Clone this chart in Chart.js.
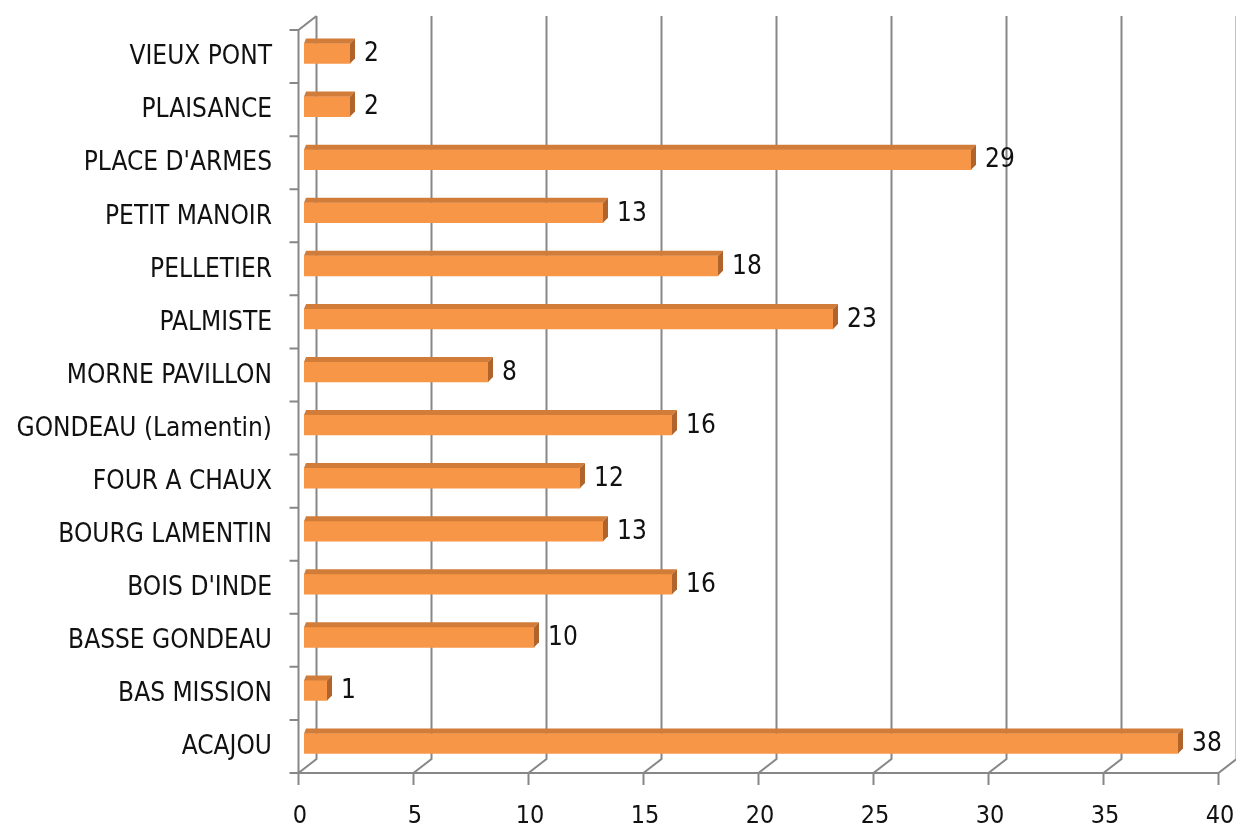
<!DOCTYPE html>
<html><head><meta charset="utf-8">
<script src="https://cdn.jsdelivr.net/npm/chart.js@4.4.1/dist/chart.umd.min.js"></script>
<style>html,body{margin:0;padding:0;background:#fff;overflow:hidden}</style>
</head><body>
<canvas id="c" width="1236" height="828" style="display:block;width:1236px;height:828px"></canvas>
<script>
const categories = ["VIEUX PONT","PLAISANCE","PLACE D'ARMES","PETIT MANOIR","PELLETIER","PALMISTE","MORNE PAVILLON","GONDEAU (Lamentin)","FOUR A CHAUX","BOURG LAMENTIN","BOIS D'INDE","BASSE GONDEAU","BAS MISSION","ACAJOU"];
const values = [2,2,29,13,18,23,8,16,12,13,16,10,1,38];
const xTicks = [0,5,10,15,20,25,30,35,40];

const FONT = "'DejaVu Sans Condensed', 'DejaVu Sans', sans-serif";
const GRID = '#878787';
const TEXT = '#111111';

const depthPlugin = {
  id: 'depth',
  beforeDatasetsDraw(chart) {
    const {ctx, chartArea: a, scales: {x, y}} = chart;
    const FDX = -5.5, FDY = 3, BDX = 12.5, BDY = -11;
    const fTop = a.top + FDY, fBot = a.bottom + FDY, bTop = a.top + BDY, bBot = a.bottom + BDY;
    ctx.save();
    ctx.strokeStyle = GRID; ctx.lineWidth = 2; ctx.lineJoin = 'miter';
    ctx.beginPath();
    xTicks.forEach(v => {
      const px = x.getPixelForValue(v);
      ctx.moveTo(px + BDX, bTop); ctx.lineTo(px + BDX, bBot);
      ctx.lineTo(px + FDX, fBot); ctx.lineTo(px + FDX, fBot + 12);
    });
    const lx = x.getPixelForValue(xTicks[0]) + FDX;
    ctx.moveTo(lx - 9, fBot); ctx.lineTo(x.getPixelForValue(xTicks[xTicks.length - 1]) + FDX, fBot);
    ctx.moveTo(lx, fBot); ctx.lineTo(lx, fTop); ctx.lineTo(x.getPixelForValue(xTicks[0]) + BDX, bTop);
    for (let k = 0; k <= categories.length; k++) {
      const yy = y.getPixelForValue(k - 0.5) + FDY;
      ctx.moveTo(lx - 9, yy); ctx.lineTo(lx, yy);
    }
    ctx.stroke();
    ctx.restore();
  },
  afterDatasetsDraw(chart) {
    const {ctx} = chart;
    const meta = chart.getDatasetMeta(0);
    const D = 5;
    ctx.save();
    meta.data.forEach((bar, i) => {
      const p = bar.getProps(['x', 'y', 'base', 'height'], true);
      const t = p.y - p.height / 2, b = p.y + p.height / 2;
      ctx.fillStyle = '#D27C3A';
      ctx.beginPath();
      ctx.moveTo(p.base, t); ctx.lineTo(p.x, t); ctx.lineTo(p.x + D, t - D); ctx.lineTo(p.base + 2, t - D);
      ctx.closePath(); ctx.fill();
      ctx.fillStyle = '#B0632B';
      ctx.beginPath();
      ctx.moveTo(p.x, t); ctx.lineTo(p.x + D, t - D); ctx.lineTo(p.x + D, b - D); ctx.lineTo(p.x, b);
      ctx.closePath(); ctx.fill();
      ctx.fillStyle = TEXT;
      ctx.font = "26px " + FONT;
      ctx.textAlign = 'left'; ctx.textBaseline = 'middle';
      ctx.fillText(String(values[i]), p.x + 14, p.y + 1);
    });
    ctx.restore();
  }
};

new Chart(document.getElementById('c'), {
  type: 'bar',
  data: {
    labels: categories,
    datasets: [{ data: values, backgroundColor: '#F79646', borderWidth: 0, barThickness: 20 }]
  },
  options: {
    indexAxis: 'y',
    responsive: false,
    animation: false,
    devicePixelRatio: 1,
    layout: { padding: { top: 27, right: 12, left: 0, bottom: 0 } },
    plugins: { legend: { display: false }, tooltip: { enabled: false } },
    scales: {
      x: {
        min: xTicks[0], max: xTicks[xTicks.length - 1],
        afterBuildTicks: s => { s.ticks = xTicks.map(v => ({ value: v })); },
        grid: { display: false, drawTicks: false },
        border: { display: false },
        ticks: { font: { family: FONT, size: 25 }, color: TEXT, padding: 31, labelOffset: -4, maxRotation: 0, autoSkip: false },
        afterFit: s => { s.height = 58; s.paddingLeft = 0; s.paddingRight = 0; }
      },
      y: {
        grid: { display: false, drawTicks: false },
        border: { display: false },
        ticks: { font: { family: FONT, size: 26 }, color: TEXT, padding: 32, labelOffset: 4, autoSkip: false },
        afterFit: s => { s.width = 304; s.paddingTop = 0; s.paddingBottom = 0; }
      }
    }
  },
  plugins: [depthPlugin]
});
</script>
</body></html>
